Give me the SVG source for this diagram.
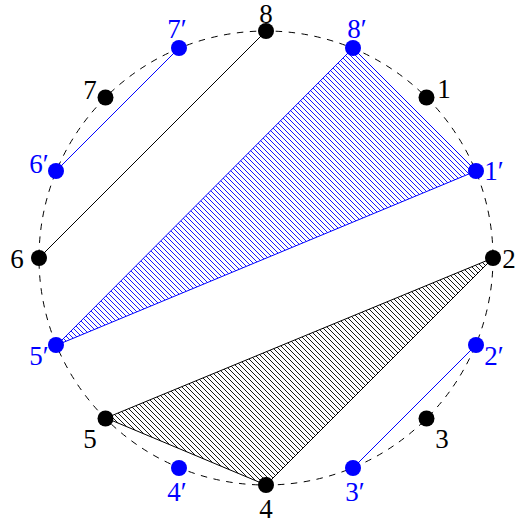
<svg xmlns="http://www.w3.org/2000/svg" width="522" height="527" viewBox="0 0 522 527">
<defs>
<pattern id="hb" patternUnits="userSpaceOnUse" width="5" height="5">
<path d="M-1,-1 L6,6 M-1,4 L1,6 M4,-1 L6,1" stroke="#0000ff" stroke-width="0.9" shape-rendering="crispEdges"/>
</pattern>
<pattern id="hk" patternUnits="userSpaceOnUse" width="5" height="5">
<path d="M-1,-1 L6,6 M-1,4 L1,6 M4,-1 L6,1" stroke="#000" stroke-width="0.9" shape-rendering="crispEdges"/>
</pattern>
</defs>
<style>
text{font-family:"Liberation Serif","DejaVu Serif",serif;font-size:27px;text-anchor:middle}
.b{fill:#0000ff}
.k{fill:#000}
</style>
<circle cx="266" cy="258" r="227" fill="none" stroke="#000" stroke-width="1" stroke-dasharray="6.5,6.5"/>
<g id="connectors">
<polygon points="353,48 476,171 57,345" fill="url(#hb)" stroke="#0000ff" stroke-width="1"/>
<polygon points="493,258 266,485 106,418" fill="url(#hk)" stroke="#000" stroke-width="1"/>
<line x1="266" y1="31" x2="39" y2="258" stroke="#000" stroke-width="1"/>
<line x1="179" y1="48" x2="56" y2="171" stroke="#0000ff" stroke-width="1"/>
<line x1="476" y1="345" x2="353" y2="468" stroke="#0000ff" stroke-width="1"/>
</g>
<g id="n1"><circle cx="426.5" cy="97.5" r="8" class="k"/><text x="444" y="98" class="k">1</text></g>
<g id="n2"><circle cx="493" cy="258" r="8" class="k"/><text x="509" y="268" class="k">2</text></g>
<g id="n3"><circle cx="426.5" cy="418.5" r="8" class="k"/><text x="442" y="448" class="k">3</text></g>
<g id="n4"><circle cx="266" cy="485" r="8" class="k"/><text x="266" y="518" class="k">4</text></g>
<g id="n5"><circle cx="105.5" cy="418.5" r="8" class="k"/><text x="90" y="448" class="k">5</text></g>
<g id="n6"><circle cx="39" cy="258" r="8" class="k"/><text x="17" y="268" class="k">6</text></g>
<g id="n7"><circle cx="105.5" cy="97.5" r="8" class="k"/><text x="90" y="99" class="k">7</text></g>
<g id="n8"><circle cx="266" cy="31" r="8" class="k"/><text x="266" y="22.5" class="k">8</text></g>
<g id="p1"><circle cx="476" cy="171" r="8" class="b"/><text x="494" y="180" class="b">1′</text></g>
<g id="p2"><circle cx="476" cy="345" r="8" class="b"/><text x="494" y="365" class="b">2′</text></g>
<g id="p3"><circle cx="353" cy="468" r="8" class="b"/><text x="355" y="501" class="b">3′</text></g>
<g id="p4"><circle cx="179" cy="468" r="8" class="b"/><text x="177" y="501" class="b">4′</text></g>
<g id="p5"><circle cx="56" cy="345" r="8" class="b"/><text x="39" y="365" class="b">5′</text></g>
<g id="p6"><circle cx="56" cy="171" r="8" class="b"/><text x="39" y="173" class="b">6′</text></g>
<g id="p7"><circle cx="179" cy="48" r="8" class="b"/><text x="177" y="38" class="b">7′</text></g>
<g id="p8"><circle cx="353" cy="48" r="8" class="b"/><text x="357" y="38" class="b">8′</text></g>
</svg>
